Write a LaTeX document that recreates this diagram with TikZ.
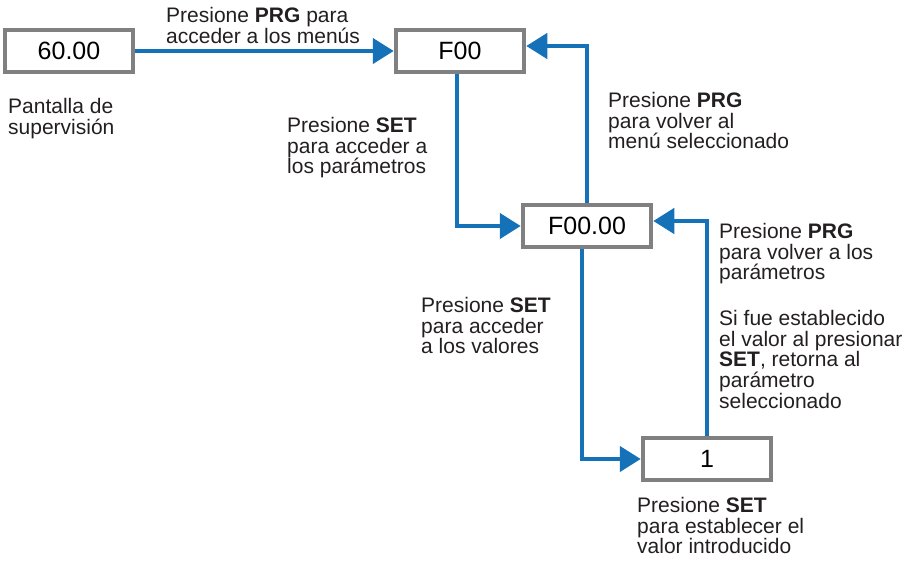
\documentclass[tikz,border=0pt]{standalone}
\usepackage{fontspec}
\setmainfont{Liberation Sans}
\usepackage{xcolor}
\usetikzlibrary{arrows.meta}

\definecolor{flowblue}{RGB}{21,113,184}
\definecolor{boxgray}{RGB}{128,128,128}
\definecolor{notegray}{RGB}{35,31,32}

\begin{document}
\begin{tikzpicture}[x=1pt, y=-1pt,
        display/.style={draw=boxgray, line width=4.5pt, fill=white, minimum width=128pt, minimum height=42pt, inner sep=0pt, font=\fontsize{25}{30}\selectfont},
        flow/.style={draw=flowblue, line width=4.5pt, -{Triangle[length=21pt,width=25pt]}},
        note/.style={anchor=north west, inner sep=0pt, align=left, text=notegray, font=\fontsize{21}{20.75}\selectfont}]

        \useasboundingbox (0,0) rectangle (916,560);

        % displays
        \node[display] (pant) at (69,51) {60.00};
        \node[display] (menu) at (460,51) {F00};
        \node[display] (param) at (587,226) {F00.00};
        \node[display] (val) at (707,459) {1};

        % connectors
        \draw[flow] (pant.east) -- (menu.west);
        \draw[flow] ([xshift=-3pt]menu.south) |- (param.west);
        \draw[flow] (param.north) |- ([yshift=5pt]menu.east);
        \draw[flow] ([xshift=-5pt]param.south) |- (val.west);
        \draw[flow] (val.north) |- ([yshift=5pt]param.east);

        % notes
        \node[note] (toMenu) at (166,7) {Presione \textbf{PRG} para\\acceder a los menús};
        \node[note] (supv) at (8,98) {Pantalla de\\supervisión};
        \node[note] (toParam) at (287,117) {Presione \textbf{SET}\\para acceder a\\los parámetros};
        \node[note] (backMenu) at (608,92) {Presione \textbf{PRG}\\para volver al\\menú seleccionado};
        \node[note] (backParam) at (719,223) {Presione \textbf{PRG}\\para volver a los\\parámetros};
        \node[note] (retParam) at (719,310) {Si fue establecido\\el valor al presionar\\\textbf{SET}, retorna al\\parámetro\\seleccionado};
        \node[note] (toVal) at (421,297) {Presione \textbf{SET}\\para acceder\\a los valores};
        \node[note] (setVal) at (637,497) {Presione \textbf{SET}\\para establecer el\\valor introducido};

    \end{tikzpicture}
\end{document}
